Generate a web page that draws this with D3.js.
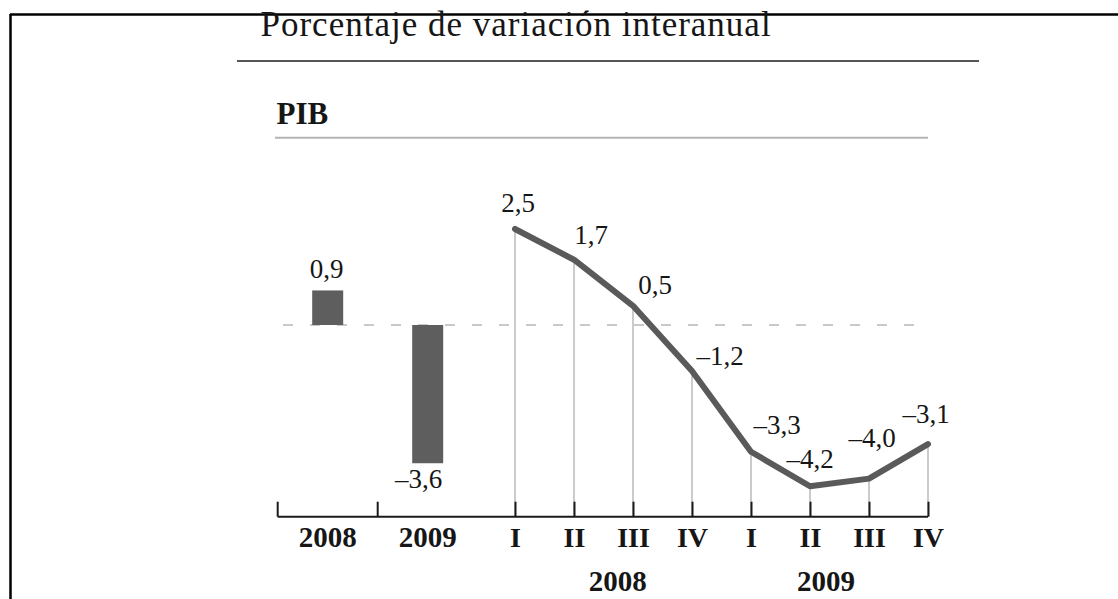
<!DOCTYPE html>
<html>
<head>
<meta charset="utf-8">
<script src="https://cdn.jsdelivr.net/npm/d3@7"></script>
<style>
  html, body { margin: 0; padding: 0; background: #fff; }
  svg { display: block; }
  text { font-family: "Liberation Serif", "Times New Roman", serif; fill: #161616; }
</style>
</head>
<body>
<svg id="chart"></svg>
<script>
// PIB: variación interanual, medias anuales y trimestres 2008-2009.
const WIDTH = 1118;
const HEIGHT = 599;

// ---- data ----
const years = ['2008', '2009'];
const annualGrowth = [0.9, -3.6];

const quarterNames = ['I', 'II', 'III', 'IV', 'I', 'II', 'III', 'IV'];
const quarterYears = ['2008', '2008', '2008', '2008', '2009', '2009', '2009', '2009'];
const quarterlyGrowth = [2.5, 1.7, 0.5, -1.2, -3.3, -4.2, -4.0, -3.1];

const TITLE = 'Porcentaje de variación interanual';
const SUBTITLE = 'PIB';

// ---- layout ----
const AXIS_Y = 516.7;
const ZERO_Y = 325;
const PX_PER_UNIT = 38.4;
const TICK_LEN = 15;

// label nudges relative to the point / bar end (dx to text centre, dy to baseline)
const quarterLabelNudge = [
  [3, -17], [17, -16], [22, -12], [28, -6],
  [26, -18], [0, -18], [3, -32], [-2, -21],
];
const annualLabelNudge = [[-1, -12], [-9, 25]];
// where the year names under the quarters sit, in quarter steps from the first quarter
const quarterYearLabelPos = { '2008': 1.74, '2009': 1.27 };

const locale = d3.formatLocale({
  decimal: ',', thousands: '.', grouping: [3], currency: ['', ' €'], minus: '\u2013',
});
const fmt = locale.format('.1f');

const svg = d3.select('#chart').attr('width', WIDTH).attr('height', HEIGHT);

// scales
const y = d3.scaleLinear()
  .domain([-4.5, 3])
  .range([ZERO_Y + 4.5 * PX_PER_UNIT, ZERO_Y - 3 * PX_PER_UNIT]);

const xYear = d3.scaleBand().domain(years).range([277.7, 477.7]).padding(0);

const quarterKeys = quarterNames.map((q, i) => `${quarterYears[i]}-${q}`);
const xQ = d3.scalePoint().domain(quarterKeys).range([515, 928]);

// frame (top and left edges of the scanned box)
svg.append('line')
  .attr('x1', 10).attr('x2', WIDTH).attr('y1', 14.5).attr('y2', 14.5)
  .attr('stroke', '#000').attr('stroke-width', 2.5);
svg.append('line')
  .attr('x1', 10.5).attr('x2', 10.5).attr('y1', 14).attr('y2', HEIGHT)
  .attr('stroke', '#000').attr('stroke-width', 2.5);

// headings
svg.append('text')
  .attr('x', 260.5).attr('y', 36)
  .style('font-size', '35px')
  .style('letter-spacing', '1px')
  .text(TITLE);
svg.append('line')
  .attr('x1', 237).attr('x2', 979).attr('y1', 61).attr('y2', 61)
  .attr('stroke', '#555').attr('stroke-width', 2);

svg.append('text')
  .attr('x', 276.5).attr('y', 124.3)
  .style('font-size', '31px')
  .style('font-weight', 'bold')
  .text(SUBTITLE);
svg.append('line')
  .attr('x1', 275).attr('x2', 928).attr('y1', 137.7).attr('y2', 137.7)
  .attr('stroke', '#b4b4b4').attr('stroke-width', 2);

// zero reference (dashed)
svg.append('line')
  .attr('x1', 283).attr('x2', 926)
  .attr('y1', y(0)).attr('y2', y(0))
  .attr('stroke', '#b8b8b8').attr('stroke-width', 1.6)
  .attr('stroke-dasharray', '10 17');

// annual bars
const barW = 31;
svg.append('g')
  .selectAll('rect')
  .data(years)
  .join('rect')
  .attr('x', (d) => xYear(d) + xYear.bandwidth() / 2 - barW / 2)
  .attr('width', barW)
  .attr('y', (d, i) => y(Math.max(0, annualGrowth[i])))
  .attr('height', (d, i) => Math.abs(y(annualGrowth[i]) - y(0)))
  .attr('fill', '#5e5e5e');

svg.append('g')
  .selectAll('text')
  .data(years)
  .join('text')
  .attr('text-anchor', 'middle')
  .attr('x', (d, i) => xYear(d) + xYear.bandwidth() / 2 + annualLabelNudge[i][0])
  .attr('y', (d, i) => y(annualGrowth[i]) + annualLabelNudge[i][1])
  .style('font-size', '27px')
  .text((d, i) => fmt(annualGrowth[i]));

// drop lines from each quarterly point to the axis
svg.append('g')
  .selectAll('line')
  .data(quarterKeys)
  .join('line')
  .attr('x1', (d) => xQ(d)).attr('x2', (d) => xQ(d))
  .attr('y1', (d, i) => y(quarterlyGrowth[i]))
  .attr('y2', AXIS_Y)
  .attr('stroke', '#a8a8a8').attr('stroke-width', 1.2);

// quarterly line
const line = d3.line()
  .x((d, i) => xQ(quarterKeys[i]))
  .y((d) => y(d));
svg.append('path')
  .datum(quarterlyGrowth)
  .attr('d', line)
  .attr('fill', 'none')
  .attr('stroke', '#5a5a5a')
  .attr('stroke-width', 6)
  .attr('stroke-linejoin', 'round')
  .attr('stroke-linecap', 'round');

svg.append('g')
  .selectAll('text')
  .data(quarterKeys)
  .join('text')
  .attr('text-anchor', 'middle')
  .attr('x', (d, i) => xQ(d) + quarterLabelNudge[i][0])
  .attr('y', (d, i) => y(quarterlyGrowth[i]) + quarterLabelNudge[i][1])
  .style('font-size', '27px')
  .text((d, i) => fmt(quarterlyGrowth[i]));

// axis: one baseline, ticks pointing up
const axisG = svg.append('g').attr('class', 'axis');
axisG.append('line')
  .attr('x1', xYear.range()[0]).attr('x2', xQ.range()[1])
  .attr('y1', AXIS_Y).attr('y2', AXIS_Y)
  .attr('stroke', '#1a1a1a').attr('stroke-width', 2);

// annual band edges as ticks, year names in the band centres
const yearEdges = years.map((d) => xYear(d));
axisG.append('g')
  .selectAll('line')
  .data(yearEdges)
  .join('line')
  .attr('x1', (d) => d).attr('x2', (d) => d)
  .attr('y1', AXIS_Y - TICK_LEN).attr('y2', AXIS_Y)
  .attr('stroke', '#1a1a1a').attr('stroke-width', 2);
axisG.append('g')
  .selectAll('text')
  .data(years)
  .join('text')
  .attr('text-anchor', 'middle')
  .attr('x', (d) => xYear(d) + xYear.bandwidth() / 2)
  .attr('y', 547)
  .style('font-size', '29px')
  .style('font-weight', 'bold')
  .text((d) => d);

// quarter ticks via d3.axisBottom
const qAxis = d3.axisBottom(xQ)
  .tickSize(-TICK_LEN)
  .tickSizeOuter(0)
  .tickPadding(0)
  .tickFormat((d) => d.split('-')[1]);
const qG = axisG.append('g')
  .attr('transform', `translate(0,${AXIS_Y})`)
  .call(qAxis);
qG.select('.domain').remove();
qG.selectAll('.tick line').attr('stroke', '#1a1a1a').attr('stroke-width', 2);
qG.selectAll('.tick text')
  .attr('y', 547 - AXIS_Y)
  .attr('dy', null)
  .attr('fill', '#161616')
  .style('font-family', '"Liberation Serif", "Times New Roman", serif')
  .style('font-size', '28px')
  .style('font-weight', 'bold');

// year names under the quarter groups
const step = xQ.step();
axisG.append('g')
  .selectAll('text')
  .data(years)
  .join('text')
  .attr('text-anchor', 'middle')
  .attr('x', (d) => xQ(`${d}-I`) + quarterYearLabelPos[d] * step)
  .attr('y', 591)
  .style('font-size', '29px')
  .style('font-weight', 'bold')
  .text((d) => d);
</script>
</body>
</html>
